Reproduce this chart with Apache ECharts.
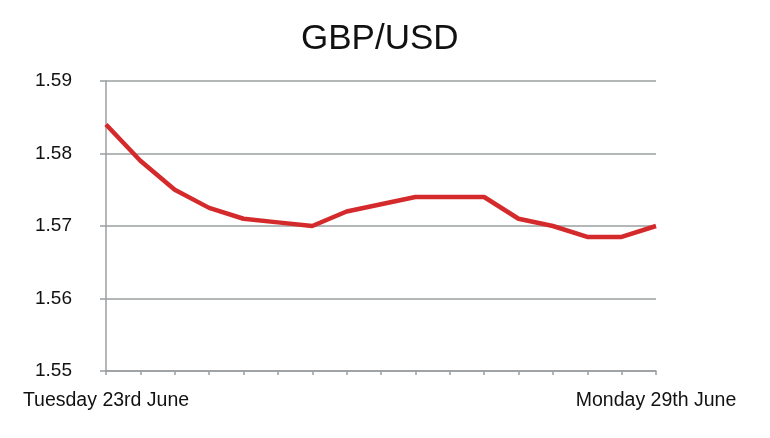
<!DOCTYPE html>
<html>
<head>
<meta charset="utf-8">
<script src="https://cdn.jsdelivr.net/npm/echarts@6/dist/echarts.min.js"></script>
<style>
  html, body { margin: 0; padding: 0; background: #fff; }
  #chart { width: 770px; height: 438px; }
</style>
</head>
<body>
<div id="chart"></div>
<script>
// x tick labels, only first and last are shown
const tickLabels = [
  'Tuesday 23rd June', '', '', '', '', '', '', '', '',
  '', '', '', '', '', '', '', 'Monday 29th June'
];
const categories = tickLabels.map((_, i) => 'p' + i);
const rates = [
  1.584, 1.579, 1.575, 1.5725, 1.571, 1.5705, 1.570, 1.572, 1.573,
  1.574, 1.574, 1.574, 1.571, 1.570, 1.5685, 1.5685, 1.570
];
const yTicks = ['1.55', '1.56', '1.57', '1.58', '1.59'];

const grey = '#9a9fa1';
const font = 'Liberation Sans, Arial, Helvetica, sans-serif';

const chart = echarts.init(document.getElementById('chart'));
chart.setOption({
  animation: false,
  title: {
    text: 'GBP/USD',
    left: 296,
    top: 17,
    textStyle: { fontFamily: font, fontSize: 35, fontWeight: 'normal', color: '#111' }
  },
  grid: { left: 106, right: 114, top: 81, bottom: 67 },
  xAxis: {
    type: 'category',
    boundaryGap: false,
    data: categories,
    axisLine: { lineStyle: { color: grey, width: 1.5 } },
    axisTick: { show: true, interval: 0, length: 4, lineStyle: { color: grey, width: 1.5 } },
    axisLabel: {
      interval: 0,
      margin: 20,
      color: '#111',
      fontFamily: font,
      fontSize: 19.5,
      formatter: (v, i) => tickLabels[i]
    },
    splitLine: { show: false }
  },
  yAxis: {
    type: 'value',
    min: 1.55,
    max: 1.59,
    interval: 0.01,
    axisLine: { show: true, lineStyle: { color: grey, width: 1.5 } },
    axisTick: { show: true, length: 6, lineStyle: { color: grey, width: 1.5 } },
    axisLabel: {
      margin: 34,
      color: '#111',
      fontFamily: font,
      fontSize: 19,
      formatter: (v) => yTicks[Math.round((v - 1.55) / 0.01)]
    },
    splitLine: { show: true, lineStyle: { color: grey, width: 1.5 } }
  },
  series: [{
    type: 'line',
    data: rates,
    symbol: 'none',
    smooth: false,
    lineStyle: { color: '#d42a2c', width: 4.5 }
  }]
});
</script>
</body>
</html>
